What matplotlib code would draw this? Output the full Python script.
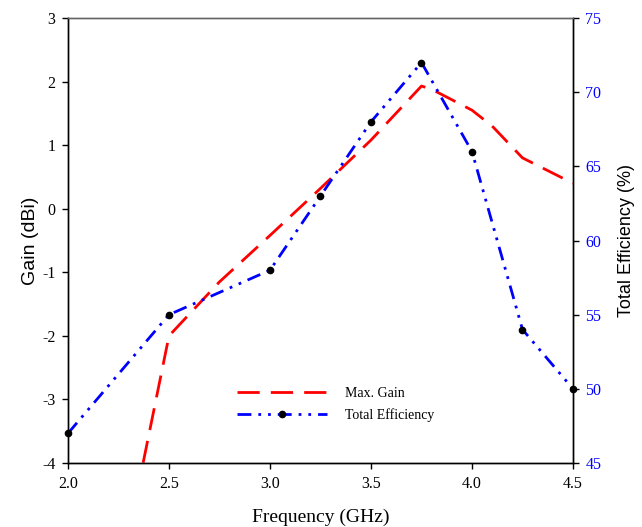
import matplotlib
matplotlib.use("Agg")
import matplotlib.pyplot as plt

freq_gain = [2.25, 2.5, 2.75, 3.0, 3.25, 3.5, 3.75, 3.8, 4.0, 4.1, 4.25, 4.5]
max_gain = [-5.9, -2.0, -1.15, -0.42, 0.32, 1.08, 1.93, 1.88, 1.55, 1.3, 0.8, 0.4]

freq_eff = [2.0, 2.5, 3.0, 3.25, 3.5, 3.75, 4.0, 4.25, 4.5]
total_eff = [47.0, 55.0, 58.0, 63.0, 68.0, 72.0, 66.0, 54.0, 50.0]

x_ticks = [2.0, 2.5, 3.0, 3.5, 4.0, 4.5]
gain_ticks = [-4, -3, -2, -1, 0, 1, 2, 3]
eff_ticks = [45, 50, 55, 60, 65, 70, 75]

serif = "Liberation Serif"
sans = "Liberation Sans"

fig = plt.figure(figsize=(6.42, 5.27), dpi=100)
ax = fig.add_axes([0.1059, 0.1214, 0.7866, 0.8444])
ax2 = ax.twinx()

l1, = ax.plot(freq_gain, max_gain, color="red", lw=2.0, dashes=(8, 4), label="Max. Gain")
l2, = ax2.plot(freq_eff, total_eff, color="blue", lw=2.0, dashes=(5, 2.5, 1, 2.5, 1, 2.5),
               marker="o", markersize=4.5, markerfacecolor="black", markeredgecolor="black",
               label="Total Efficiency", clip_on=False, zorder=5)

ax.set_xlim(2.0, 4.5)
ax.set_ylim(-4, 3)
ax2.set_ylim(45, 75)
ax.set_xticks(x_ticks)
ax.set_xticklabels([f"{v:.1f}" for v in x_ticks], fontfamily=serif, fontsize=11.5)
ax.set_yticks(gain_ticks)
ax.set_yticklabels([str(v) for v in gain_ticks], fontfamily=serif, fontsize=11.5)
ax2.set_yticks(eff_ticks)
ax2.set_yticklabels([str(v) for v in eff_ticks], fontfamily=serif, fontsize=11.5, color="blue")

for a in (ax, ax2):
    a.tick_params(direction="out", length=4, width=1, pad=5)
    for s in a.spines.values():
        s.set_linewidth(1.0)
ax.spines["top"].set_color("#666666")
ax2.spines["top"].set_color("#666666")

ax.set_xlabel("Frequency (GHz)", fontfamily=serif, fontsize=14, labelpad=12)
ax.set_ylabel("Gain (dBi)", fontfamily=sans, fontsize=14, labelpad=2)
ax2.set_ylabel("Total Efficiency (%)", fontfamily=sans, fontsize=13, labelpad=12)

leg = ax.legend(handles=[l1, l2], loc="upper left", bbox_to_anchor=(0.31, 0.20),
                frameon=False, handlelength=6.5, handletextpad=1.3, labelspacing=0.6,
                prop={"family": serif, "size": 10})

fig.savefig("out.png", dpi=100)
